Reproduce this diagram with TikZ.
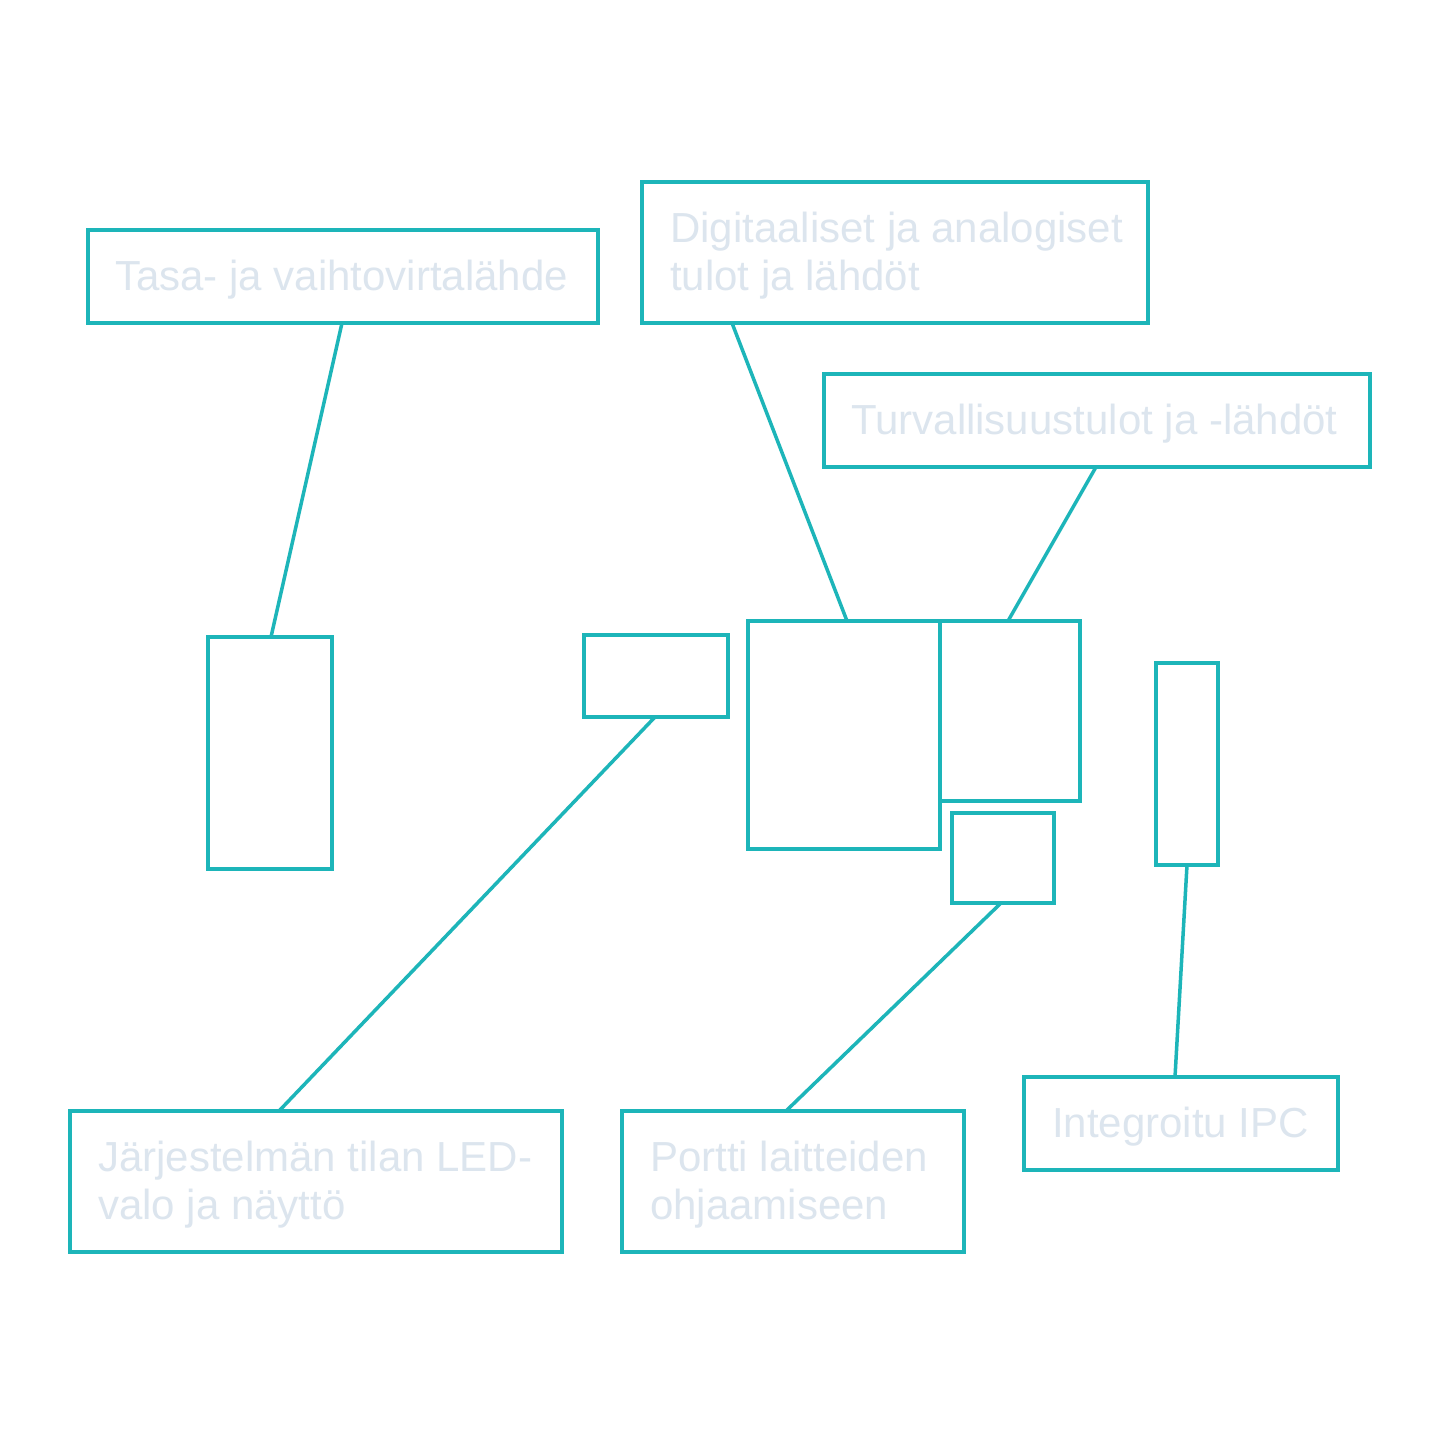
\documentclass[tikz,border=0pt]{standalone}
\usepackage{fontspec}
\setmainfont{Liberation Sans}
\usetikzlibrary{calc}
\definecolor{teal1}{HTML}{1DB5B9}
\definecolor{lbl}{HTML}{DCE5EE}
\begin{document}
\begin{tikzpicture}[x=1pt,y=-1pt,
  box/.style={draw=teal1,line width=3.5pt,rectangle,inner sep=0pt,outer sep=0pt,anchor=north west},
  lbltext/.style={text=lbl,inner sep=0pt,anchor=base west,align=left,font=\fontsize{42}{47.5}\selectfont},
  conn/.style={draw=teal1,line width=3.5pt}]
\useasboundingbox[fill=white] (0,0) rectangle (1440,1440);
% label boxes
\node[box,minimum width=510pt,minimum height=93pt] (tasa) at (88,230) {};
\node[box,minimum width=506pt,minimum height=141pt] (dig) at (642,182) {};
\node[box,minimum width=546pt,minimum height=93pt] (turv) at (824,374) {};
\node[box,minimum width=492pt,minimum height=141pt] (jarj) at (70,1111) {};
\node[box,minimum width=342pt,minimum height=141pt] (port) at (622,1111) {};
\node[box,minimum width=314pt,minimum height=93pt] (ipc) at (1024,1077) {};
% texts (base anchor = baseline of last line)
\node[lbltext] (tTasa) at (115,290) {Tasa- ja vaihtovirtalähde};
\node[lbltext] (tDig) at (670,290) {Digitaaliset ja analogiset\\tulot ja lähdöt};
\node[lbltext] (tTurv) at (851,434) {Turvallisuustulot ja -lähdöt};
\node[lbltext] (tJarj) at (98,1219) {Järjestelmän tilan LED-\\valo ja näyttö};
\node[lbltext] (tPort) at (650,1219) {Portti laitteiden\\ohjaamiseen};
\node[lbltext] (tIpc) at (1052,1137) {Integroitu IPC};
% component boxes
\node[box,minimum width=124pt,minimum height=232pt] (a) at (208,637) {};
\node[box,minimum width=144pt,minimum height=82pt] (b) at (584,635) {};
\node[box,minimum width=192pt,minimum height=228pt] (c) at (748,621) {};
\node[box,minimum width=140pt,minimum height=180pt] (d) at (940,621) {};
\node[box,minimum width=102pt,minimum height=90pt] (e) at (952,813) {};
\node[box,minimum width=62pt,minimum height=202pt] (f) at (1156,663) {};
% connectors
\draw[conn] ($(tasa.south west)+(254,0)$) -- ($(a.north west)+(63,0)$);
\draw[conn] ($(dig.south west)+(90,0)$) -- ($(c.north west)+(99,0)$);
\draw[conn] ($(turv.south west)+(272,0)$) -- ($(d.north west)+(68,0)$);
\draw[conn] ($(b.south west)+(71,0)$) -- ($(jarj.north west)+(209,0)$);
\draw[conn] ($(e.south west)+(49,0)$) -- ($(port.north west)+(164,0)$);
\draw[conn] ($(f.south west)+(31,0)$) -- ($(ipc.north west)+(151,0)$);
\end{tikzpicture}
\end{document}
